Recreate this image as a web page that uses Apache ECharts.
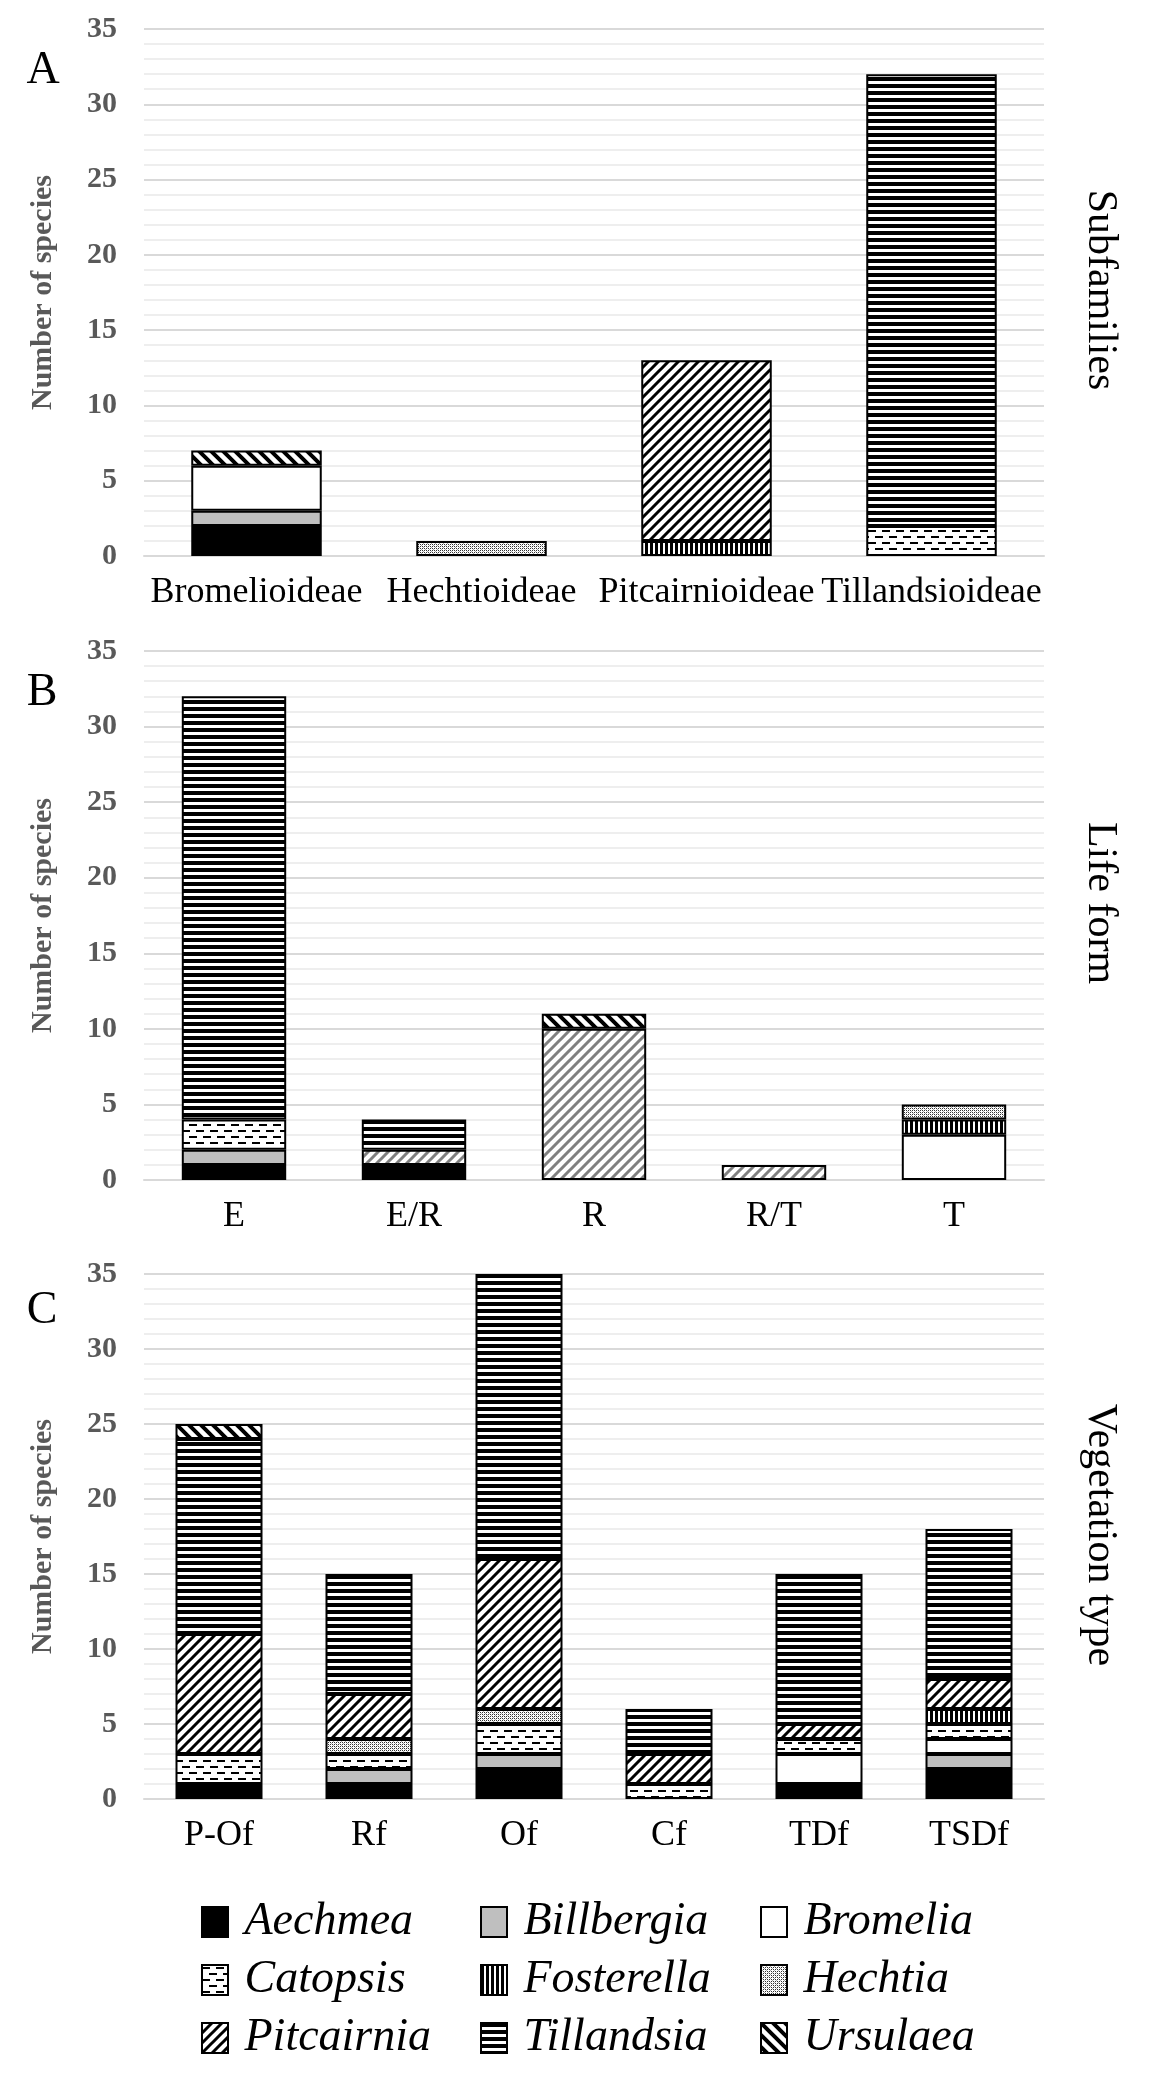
<!DOCTYPE html>
<html><head><meta charset="utf-8">
<script src="https://cdn.jsdelivr.net/npm/echarts/dist/echarts.min.js"></script>
<style>html,body{margin:0;padding:0;background:#fff}#c{width:1162px;height:2096px}</style>
</head><body><div id="c"></div>
<script>
// ---- categories ----
const subfamilies = ['Bromelioideae', 'Hechtioideae', 'Pitcairnioideae', 'Tillandsioideae'];
const lifeForms = ['E', 'E/R', 'R', 'R/T', 'T'];
const vegTypes = ['P-Of', 'Rf', 'Of', 'Cf', 'TDf', 'TSDf'];
const genera = ['Aechmea', 'Billbergia', 'Bromelia', 'Catopsis', 'Fosterella', 'Hechtia', 'Pitcairnia', 'Tillandsia', 'Ursulaea'];
const yTicks = [0, 5, 10, 15, 20, 25, 30, 35];

// ---- A: Subfamilies ----
const subAechmea    = [2, 0, 0, 0];
const subBillbergia = [1, 0, 0, 0];
const subBromelia   = [3, 0, 0, 0];
const subCatopsis   = [0, 0, 0, 2];
const subFosterella = [0, 0, 1, 0];
const subHechtia    = [0, 1, 0, 0];
const subPitcairnia = [0, 0, 12, 0];
const subTillandsia = [0, 0, 0, 30];
const subUrsulaea   = [1, 0, 0, 0];

// ---- B: Life form ----
const lifeAechmea    = [1, 1, 0, 0, 0];
const lifeBillbergia = [1, 0, 0, 0, 0];
const lifeBromelia   = [0, 0, 0, 0, 3];
const lifeCatopsis   = [2, 0, 0, 0, 0];
const lifeFosterella = [0, 0, 0, 0, 1];
const lifeHechtia    = [0, 0, 0, 0, 1];
const lifePitcairnia = [0, 1, 10, 1, 0];
const lifeTillandsia = [28, 2, 0, 0, 0];
const lifeUrsulaea   = [0, 0, 1, 0, 0];

// ---- C: Vegetation type ----
const vegAechmea    = [1, 1, 2, 0, 1, 2];
const vegBillbergia = [0, 1, 1, 0, 0, 1];
const vegBromelia   = [0, 0, 0, 0, 2, 1];
const vegCatopsis   = [2, 1, 2, 1, 1, 1];
const vegFosterella = [0, 0, 0, 0, 0, 1];
const vegHechtia    = [0, 1, 1, 0, 0, 0];
const vegPitcairnia = [8, 3, 10, 2, 1, 2];
const vegTillandsia = [13, 8, 19, 3, 10, 10];
const vegUrsulaea   = [1, 0, 0, 0, 0, 0];

// ---- fill patterns ----
function tile(w, h, draw) {
  const c = document.createElement('canvas');
  c.width = w; c.height = h;
  const g = c.getContext('2d');
  g.fillStyle = '#fff'; g.fillRect(0, 0, w, h);
  draw(g, w, h);
  return { image: c, repeat: 'repeat' };
}
function slash(col, s, lw) {
  return tile(s, s, (g) => {
    g.strokeStyle = col; g.lineWidth = lw; g.beginPath();
    [0, s, 2 * s].forEach(c => { g.moveTo(-3, c + 3); g.lineTo(c + 3, -3); });
    g.stroke();
  });
}
function backslash(col, s, lw) {
  return tile(s, s, (g) => {
    g.strokeStyle = col; g.lineWidth = lw; g.beginPath();
    [-s, 0, s].forEach(c => { g.moveTo(-3, c - 3); g.lineTo(s + 3, s + 3 + c); });
    g.stroke();
  });
}
const fills = {
  Aechmea: '#000000',
  Billbergia: '#bfbfbf',
  Bromelia: '#ffffff',
  Catopsis: tile(14, 12, (g) => { g.fillStyle = '#000'; g.fillRect(0, 2, 8, 2); g.fillRect(7, 8, 7, 2); g.fillRect(0, 8, 1, 2); }),
  Fosterella: tile(5, 4, (g) => { g.fillStyle = '#000'; g.fillRect(0, 0, 3, 4); }),
  Hechtia: tile(4, 4, (g) => {
    g.fillStyle = '#333';
    g.fillRect(0, 0, 1, 1); g.fillRect(2, 0, 1, 1); g.fillRect(0, 2, 1, 1); g.fillRect(2, 2, 1, 1);
    g.fillStyle = '#aaa';
    g.fillRect(1, 1, 1, 1); g.fillRect(3, 3, 1, 1);
  }),
  Pitcairnia: slash('#000', 10, 3),
  Tillandsia: tile(4, 7, (g) => { g.fillStyle = '#000'; g.fillRect(0, 0, 4, 4); }),
  Ursulaea: backslash('#000', 12, 4)
};
const grayPitcairnia = slash('#808080', 10, 3);

const FONT = '"Liberation Serif", "Times New Roman", serif';

function buildSeries(idx, stackName, rows, overrides) {
  return genera.map((g, i) => ({
    name: g, type: 'bar', stack: stackName,
    xAxisIndex: idx, yAxisIndex: idx,
    barWidth: '58%',
    data: rows[i].map(v => (v === 0 ? '-' : v)),
    itemStyle: { color: (overrides && overrides[g]) || fills[g], borderColor: '#000', borderWidth: 2 },
    emphasis: { disabled: true },
    animation: false
  }));
}

const grids = [
  { left: 144, width: 900, top: 29, height: 527 },
  { left: 144, width: 900, top: 651, height: 529 },
  { left: 144, width: 900, top: 1274, height: 525 }
].map(g => Object.assign({ outerBoundsMode: 'none', containLabel: false }, g));

function xAx(idx, cats) {
  return {
    type: 'category', gridIndex: idx, data: cats,
    axisLine: { show: true, lineStyle: { color: '#d9d9d9', width: 2 } },
    axisTick: { show: false },
    axisLabel: { interval: 0, margin: 19, fontFamily: FONT, fontSize: 36, color: '#000' }
  };
}
function yAx(idx) {
  return {
    type: 'value', gridIndex: idx, min: yTicks[0], max: yTicks[yTicks.length - 1], interval: yTicks[1] - yTicks[0],
    name: 'Number of species', nameLocation: 'middle', nameGap: 86, nameRotate: 90,
    nameTextStyle: { fontFamily: FONT, fontWeight: 'bold', fontSize: 30, color: '#595959' },
    axisLine: { show: false }, axisTick: { show: false },
    axisLabel: { margin: 27, fontFamily: FONT, fontWeight: 'bold', fontSize: 30, color: '#595959' },
    splitLine: { show: true, lineStyle: { color: '#d9d9d9', width: 2 } },
    minorTick: { show: false, splitNumber: 5 },
    minorSplitLine: { show: true, lineStyle: { color: '#eeeeee', width: 2 } }
  };
}

const legendCommon = {
  orient: 'vertical', itemWidth: 26, itemHeight: 30, itemGap: 12, icon: 'rect',
  selectedMode: false,
  formatter: n => ' ' + n,
  itemStyle: { borderColor: '#000', borderWidth: 2 },
  textStyle: { fontFamily: FONT, fontStyle: 'italic', fontSize: 46, color: '#000' }
};

const option = {
  backgroundColor: '#fff',
  animation: false,
  grid: grids,
  xAxis: [xAx(0, subfamilies), xAx(1, lifeForms), xAx(2, vegTypes)],
  yAxis: [yAx(0), yAx(1), yAx(2)],
  legend: [
    Object.assign({ left: 196, top: 1894, data: ['Aechmea', 'Catopsis', 'Pitcairnia'] }, legendCommon),
    Object.assign({ left: 475, top: 1894, data: ['Billbergia', 'Fosterella', 'Tillandsia'] }, legendCommon),
    Object.assign({ left: 755, top: 1894, data: ['Bromelia', 'Hechtia', 'Ursulaea'] }, legendCommon)
  ],
  series: [].concat(
    buildSeries(0, 'A', [subAechmea, subBillbergia, subBromelia, subCatopsis, subFosterella, subHechtia, subPitcairnia, subTillandsia, subUrsulaea]),
    buildSeries(1, 'B', [lifeAechmea, lifeBillbergia, lifeBromelia, lifeCatopsis, lifeFosterella, lifeHechtia, lifePitcairnia, lifeTillandsia, lifeUrsulaea], { Pitcairnia: grayPitcairnia }),
    buildSeries(2, 'C', [vegAechmea, vegBillbergia, vegBromelia, vegCatopsis, vegFosterella, vegHechtia, vegPitcairnia, vegTillandsia, vegUrsulaea])
  ),
  graphic: [
    { type: 'text', x: 43, y: 71, style: { text: 'A', font: '46px ' + FONT, fill: '#000', align: 'center', verticalAlign: 'middle' } },
    { type: 'text', x: 42, y: 693, style: { text: 'B', font: '46px ' + FONT, fill: '#000', align: 'center', verticalAlign: 'middle' } },
    { type: 'text', x: 42, y: 1311, style: { text: 'C', font: '46px ' + FONT, fill: '#000', align: 'center', verticalAlign: 'middle' } },
    { type: 'text', x: 1100, y: 290, rotation: -Math.PI / 2, style: { text: 'Subfamilies', font: '42px ' + FONT, fill: '#000', align: 'center', verticalAlign: 'middle' } },
    { type: 'text', x: 1100, y: 903, rotation: -Math.PI / 2, style: { text: 'Life form', font: '42px ' + FONT, fill: '#000', align: 'center', verticalAlign: 'middle' } },
    { type: 'text', x: 1100, y: 1535, rotation: -Math.PI / 2, style: { text: 'Vegetation type', font: '42px ' + FONT, fill: '#000', align: 'center', verticalAlign: 'middle' } }
  ]
};

const chart = echarts.init(document.getElementById('c'), null, { renderer: 'canvas' });
chart.setOption(option);
</script>
</body></html>
